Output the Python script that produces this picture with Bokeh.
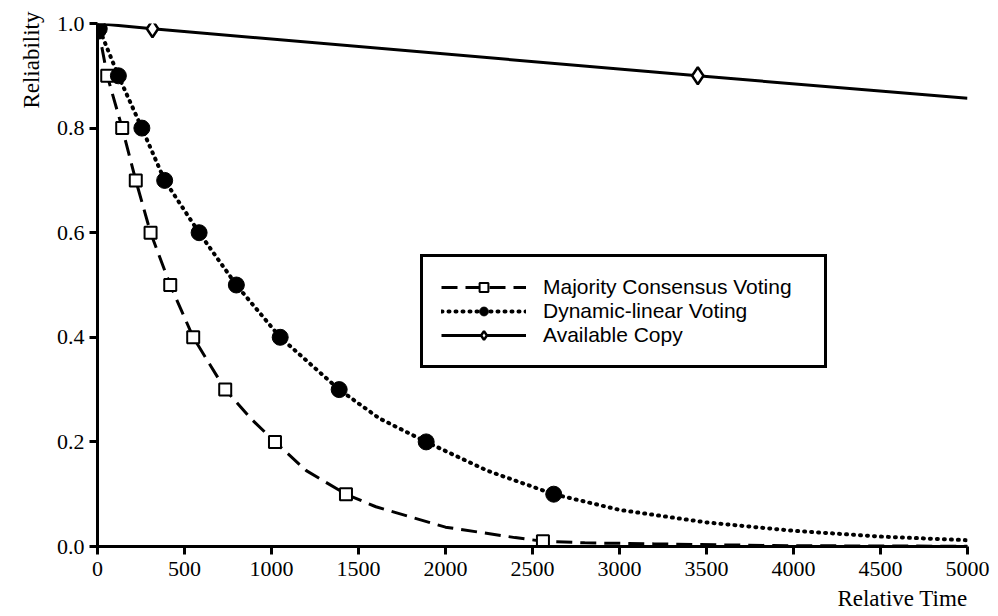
from bokeh.plotting import figure
from bokeh.models import FixedTicker, PrintfTickFormatter, Title, Legend, LegendItem, Range1d
from bokeh.embed import file_html
from bokeh.resources import INLINE

# ---- data ----
mcv_x = [5, 56, 142, 220, 305, 418, 550, 734, 1020, 1428, 2560]
mcv_y = [0.99, 0.90, 0.80, 0.70, 0.60, 0.50, 0.40, 0.30, 0.20, 0.10, 0.01]
mcv_curve_x = [0, 880, 1200, 1600, 2000, 2400, 2800, 3200, 3600, 4000, 5000]
mcv_curve_y = [1.0, 0.245, 0.145, 0.076, 0.037, 0.017, 0.007, 0.005, 0.003, 0.0015, 0.0004]

dlv_x = [10, 120, 255, 386, 584, 798, 1050, 1389, 1889, 2622]
dlv_y = [0.99, 0.90, 0.80, 0.70, 0.60, 0.50, 0.40, 0.30, 0.20, 0.10]
dlv_curve_x = [0, 1620, 2240, 3000, 3500, 4000, 4500, 5000]
dlv_curve_y = [1.0, 0.245, 0.145, 0.07, 0.046, 0.03, 0.019, 0.012]

ac_x = [316, 3450]
ac_y = [0.99, 0.90]
ac_curve_x = [0, 5000]
ac_curve_y = [1.0, 0.857]

x_ticks = [0, 500, 1000, 1500, 2000, 2500, 3000, 3500, 4000, 4500, 5000]
y_ticks = [0.0, 0.2, 0.4, 0.6, 0.8, 1.0]

series_names = ["Majority Consensus Voting", "Dynamic-linear Voting", "Available Copy"]
x_title = "Relative Time"
y_title = "Reliability"


def merged(xs, ys, cx, cy):
    pts = sorted(zip(list(xs) + list(cx), list(ys) + list(cy)))
    return [p[0] for p in pts], [p[1] for p in pts]


p = figure(width=998, height=616, output_backend="svg", toolbar_location=None,
           x_range=Range1d(0, 5000), y_range=Range1d(0, 1.0),
           min_border_left=97, min_border_right=31, min_border_top=23, min_border_bottom=70)
p.background_fill_color = "white"
p.border_fill_color = "white"
p.outline_line_color = None
p.xgrid.visible = False
p.ygrid.visible = False

serif = "Liberation Serif"
for ax in (p.xaxis[0], p.yaxis[0]):
    ax.axis_line_width = 3
    ax.axis_line_color = "black"
    ax.axis_line_alpha = 1.0
    ax.major_tick_line_width = 3
    ax.major_tick_line_color = "black"
    ax.major_tick_out = 8
    ax.major_tick_in = 0
    ax.minor_tick_line_color = None
    ax.major_label_text_font = serif
    ax.major_label_text_font_size = "22px"
    ax.major_label_text_color = "black"

p.xaxis[0].ticker = FixedTicker(ticks=x_ticks)
p.yaxis[0].ticker = FixedTicker(ticks=y_ticks)
p.yaxis[0].formatter = PrintfTickFormatter(format="%.1f")
p.xaxis[0].major_label_standoff = 7
p.yaxis[0].major_label_standoff = 5

# curves
mx, my = merged(mcv_x, mcv_y, mcv_curve_x, mcv_curve_y)
dx, dy = merged(dlv_x, dlv_y, dlv_curve_x, dlv_curve_y)
axx, ayy = merged(ac_x, ac_y, ac_curve_x, ac_curve_y)

l1 = p.line(mx, my, line_color="black", line_width=3, line_dash="16 8")
l2 = p.line(dx, dy, line_color="black", line_width=4, line_dash="1 6", line_cap="round")
l3 = p.line(axx, ayy, line_color="black", line_width=3)

s1 = p.scatter(mcv_x, mcv_y, marker="square", size=12, fill_color="white",
               line_color="black", line_width=2)
s2 = p.scatter(dlv_x, dlv_y, marker="circle", size=16, fill_color="black",
               line_color="black", line_width=1)
s3 = p.scatter(ac_x, ac_y, marker="diamond", size=17, fill_color="white",
               line_color="black", line_width=2.5)

legend = Legend(items=[LegendItem(label=series_names[0], renderers=[l1, s1]),
                       LegendItem(label=series_names[1], renderers=[l2, s2]),
                       LegendItem(label=series_names[2], renderers=[l3, s3])],
                location=(323, 178), orientation="vertical")
legend.border_line_color = "black"
legend.border_line_width = 3
legend.border_line_alpha = 1.0
legend.background_fill_color = "white"
legend.background_fill_alpha = 1.0
legend.label_text_font = "Liberation Sans"
legend.label_text_font_size = "21px"
legend.label_text_color = "black"
legend.glyph_width = 85
legend.glyph_height = 22
legend.label_height = 22
legend.label_width = 263
legend.label_standoff = 17
legend.spacing = 0
legend.padding = 18
legend.margin = 0
p.add_layout(legend, "center")

ytitle = Title(text=y_title, align="right", text_font=serif, text_font_size="23px",
               text_font_style="normal", text_color="black", offset=-12, standoff=20)
p.add_layout(ytitle, "left")
xtitle = Title(text=x_title, align="right", text_font=serif, text_font_size="23px",
               text_font_style="normal", text_color="black")
p.add_layout(xtitle, "below")

open("out.html", "w").write(file_html(p, INLINE))
